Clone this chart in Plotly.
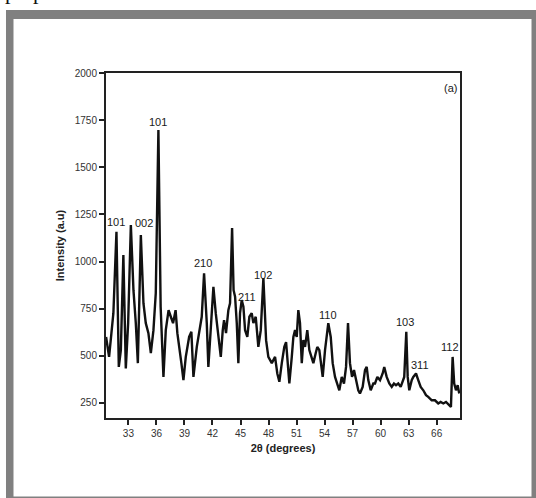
import plotly.graph_objects as go

two_theta = [30.61, 30.93, 31.18, 31.39, 31.72, 31.97, 32.19, 32.46, 32.72, 32.97,
             33.26, 33.54, 33.79, 34.01, 34.33, 34.61, 34.86, 35.14, 35.40, 35.68,
             35.93, 36.21, 36.45, 36.75, 37.00, 37.30, 37.54, 37.78, 38.05, 38.24,
             38.67, 38.89, 39.14, 39.50, 39.74, 39.96, 40.32, 40.67, 40.85, 41.10,
             41.39, 41.56, 41.82, 42.10, 42.35, 42.63, 42.89, 43.10, 43.24, 43.45,
             43.70, 43.88, 44.10, 44.26, 44.42, 44.60, 44.77, 44.95, 45.13, 45.31,
             45.49, 45.73, 45.95, 46.20, 46.38, 46.63, 46.91, 47.17, 47.45, 47.74,
             47.98, 48.35, 48.70, 48.94, 49.16, 49.42, 49.69, 49.88, 50.04, 50.23,
             50.49, 50.66, 50.84, 51.02, 51.19, 51.37, 51.56, 51.73, 51.91, 52.15,
             52.37, 52.63, 52.80, 53.05, 53.22, 53.44, 53.59, 53.80, 54.05, 54.23,
             54.40, 54.66, 54.87, 55.12, 55.36, 55.58, 55.84, 56.08, 56.30, 56.51,
             56.72, 56.94, 57.15, 57.37, 57.61, 57.79, 58.08, 58.33, 58.51, 58.68,
             58.94, 59.22, 59.40, 59.65, 59.94, 60.22, 60.39, 60.65, 60.93, 61.19,
             61.43, 61.65, 61.89, 62.15, 62.36, 62.53, 62.75, 62.90, 63.07, 63.33,
             63.50, 63.79, 64.03, 64.29, 64.57, 64.86, 65.10, 65.47, 65.82, 66.17,
             66.43, 66.71, 67.00, 67.35, 67.53, 67.71, 67.88, 68.07, 68.25, 68.42]

intensity = [600, 494, 620, 726, 1158, 441, 530, 1034, 433, 673,
             1194, 848, 673, 461, 1140, 779, 673, 620, 514, 636,
             832, 1698, 760, 388, 636, 742, 707, 673, 742, 620,
             461, 371, 494, 600, 627, 388, 547, 654, 707, 937,
             673, 441, 673, 866, 726, 600, 494, 636, 689, 620,
             742, 779, 1178, 848, 813, 673, 461, 726, 795, 760,
             636, 600, 707, 726, 673, 707, 547, 636, 912, 583,
             494, 461, 494, 406, 362, 461, 547, 572, 466, 353,
             494, 600, 636, 600, 742, 673, 461, 583, 547, 636,
             530, 494, 461, 514, 547, 530, 461, 388, 530, 620,
             673, 600, 461, 388, 353, 317, 388, 353, 441, 673,
             461, 388, 424, 371, 317, 300, 335, 424, 441, 371,
             317, 353, 353, 388, 371, 406, 441, 388, 353, 335,
             353, 344, 353, 335, 371, 388, 627, 388, 317, 371,
             388, 406, 371, 335, 317, 291, 282, 264, 264, 247,
             255, 247, 255, 238, 229, 494, 353, 317, 344, 300]

peak_labels = ["101", "002", "101", "210", "211", "102", "110", "103", "311", "112"]
peak_label_x = [31.65, 34.68, 36.18, 41.0, 45.67, 47.41, 54.34, 62.61, 64.21, 67.42]
peak_label_y = [1211, 1204, 1742, 992, 813, 928, 716, 680, 450, 547]

x_ticks = [33, 36, 39, 42, 45, 48, 51, 54, 57, 60, 63, 66]
y_ticks = [250, 500, 750, 1000, 1250, 1500, 1750, 2000]

fig = go.Figure()
fig.add_trace(go.Scatter(x=two_theta, y=intensity, mode="lines",
                         line=dict(color="#111111", width=2.4),
                         showlegend=False, hoverinfo="skip"))

label_font = dict(family="Liberation Sans Narrow, Arial Narrow, Liberation Sans, Arial",
                  size=11, color="#1a1a1a")
for t, xv, yv in zip(peak_labels, peak_label_x, peak_label_y):
    fig.add_annotation(x=xv, y=yv, text=t, showarrow=False, font=label_font,
                       xanchor="center", yanchor="middle")

fig.add_annotation(xref="paper", yref="paper", x=0.972, y=0.956, text="(a)",
                   showarrow=False, font=label_font, xanchor="center", yanchor="middle")

# cut-off caption text at the very top of the page
fig.add_annotation(xref="paper", yref="paper", x=-0.29, y=1.236, text="prepared    ZnO NPs.",
                   showarrow=False, xanchor="left", yanchor="middle",
                   font=dict(family="Liberation Serif, Times New Roman", size=22, color="#111111"))

# grey picture frame
fig.add_shape(type="rect", xref="paper", yref="paper", x0=-0.2825, x1=1.25,
              y0=-0.25, y1=1.1826, fillcolor="#808080", line=dict(width=0), layer="below")
fig.add_shape(type="rect", xref="paper", yref="paper", x0=-0.2613, x1=1.202,
              y0=-0.2275, y1=1.1565, fillcolor="#ffffff", line=dict(width=0), layer="below")

tick_font = dict(family="Liberation Sans Narrow, Arial Narrow, Liberation Sans, Arial",
                 size=10, color="#333333")
title_font = dict(family="Liberation Sans, Arial", size=11, color="#222222")

fig.update_xaxes(range=[30.6, 68.5], tickvals=x_ticks, ticks="outside", ticklen=5,
                 tickwidth=1.5, tickcolor="#222222", showline=True, linewidth=2,
                 linecolor="#222222", mirror=True, showgrid=False, zeroline=False,
                 tickfont=tick_font,
                 title=dict(text="<b>2θ (degrees)</b>", font=title_font, standoff=6))
fig.update_yaxes(range=[170, 2000], tickvals=y_ticks, ticks="outside", ticklen=5,
                 tickwidth=1.5, tickcolor="#222222", showline=True, linewidth=2,
                 linecolor="#222222", mirror=True, showgrid=False, zeroline=False,
                 tickfont=tick_font,
                 title=dict(text="<b>Intensity (a.u)</b>", font=title_font, standoff=8))

fig.update_layout(width=536, height=498,
                  margin=dict(l=106, r=76, t=73, b=80),
                  paper_bgcolor="#ffffff", plot_bgcolor="#ffffff")

fig.write_html("out.html", config={"displayModeBar": False},
               post_script="document.body.style.margin='0';document.body.style.overflow='hidden';")
